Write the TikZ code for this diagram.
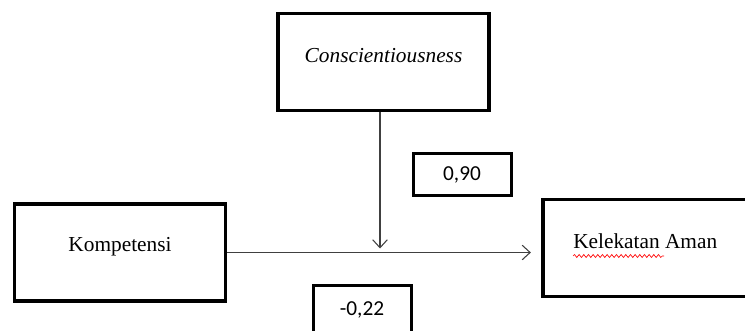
\documentclass[tikz,border=0pt]{standalone}
\usepackage{fontspec}
\setmainfont{Liberation Serif}
\newfontfamily\numfont{Carlito}
\usetikzlibrary{arrows.meta,decorations.pathmorphing}

\begin{document}
\begin{tikzpicture}[x=0.75pt,y=-0.75pt,
        box/.style={draw=black,line width=2.6pt,inner sep=0pt},
        numbox/.style={box,minimum width=73.5pt,minimum height=31.5pt},
        varbox/.style={box,minimum width=158pt,minimum height=73pt},
        word/.style={font=\fontsize{16}{19}\selectfont,inner sep=0pt},
        num/.style={font=\numfont\fontsize{16}{19}\selectfont,inner sep=0pt},
        link/.style={draw=black!75,line width=0.8pt,-{Straight Barb[length=6pt,width=11pt]}}]
        % fixing the size of the picture
        \useasboundingbox (0,0) rectangle (745,331);
        \clip (0,0) rectangle (745,331);

        % the three variables
        \node[varbox] (consc) at (383.5,62) {};
        \node[varbox] (komp) at (120,252.5) {};
        \node[varbox,minimum width=200pt] (kel) at (676.5,248) {};

        \node[word,anchor=base] (conscT) at (383.5,63) {\itshape Conscientiousness};
        \node[word,anchor=base] (kompT) at (120,252) {Kompetensi};
        \node[word,anchor=base west] (kelT) at (573,248) {Kelekatan Aman};

        % spelling mark under Kelekatan
        \draw[red,line width=0.5pt,decorate,decoration={snake,amplitude=1.1pt,segment length=3.5pt}]
            (573,256) -- (664,256);

        % the coefficients
        \node[numbox] (b1) at (462.5,174.5) {};
        \node[num,anchor=base] (b1T) at (462,181) {0,90};
        \node[numbox,minimum height=40pt] (b2) at (362.5,312) {};
        \node[num,anchor=base] (b2T) at (362,315) {-0,22};

        % the paths
        \coordinate (cross) at (380,252.5);
        \draw[link,shorten >=7.9pt] (komp.east) -- (komp.east -| kel.west);
        \draw[link,shorten >=3pt] (consc.south -| cross) -- (cross);

    \end{tikzpicture}
\end{document}
